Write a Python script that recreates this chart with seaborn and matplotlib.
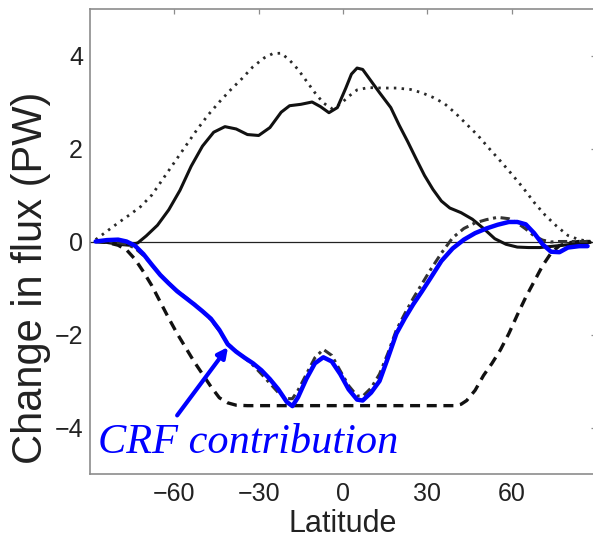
import numpy as np
import pandas as pd
import matplotlib
matplotlib.use("Agg")
import matplotlib.pyplot as plt
import seaborn as sns

# ---------------- data ----------------
lat_total = [-88, -84, -80, -76, -73, -70, -66, -62, -58, -54, -50, -46, -42, -38, -34, -30, -26, -22,
             -19, -15, -11, -8, -5, -2, 1, 3, 5, 7, 10, 13, 17, 20, 23, 26, 29, 32, 35, 38, 42, 46,
             50, 54, 58, 62, 66, 70, 75, 80, 84, 88]
val_total = [0.0, -0.02, -0.06, -0.08, -0.03, 0.12, 0.35, 0.68, 1.1, 1.62, 2.05, 2.35, 2.47, 2.42, 2.3,
             2.28, 2.45, 2.78, 2.92, 2.95, 3.0, 2.9, 2.77, 2.88, 3.3, 3.6, 3.73, 3.7, 3.45, 3.2, 2.88,
             2.5, 2.15, 1.78, 1.42, 1.12, 0.87, 0.72, 0.62, 0.48, 0.28, 0.06, -0.06, -0.12, -0.13,
             -0.13, -0.1, -0.07, -0.04, -0.02]

lat_pos = [-88, -84, -80, -76, -72, -68, -64, -60, -56, -52, -48, -44, -40, -36, -32, -28, -25, -22,
           -19, -16, -13, -10, -7, -4, -1, 2, 5, 9, 14, 19, 24, 28, 32, 36, 40, 44, 48, 52, 56, 60,
           64, 68, 72, 76, 80, 84, 88]
val_pos = [0.04, 0.22, 0.4, 0.57, 0.75, 1.0, 1.35, 1.7, 2.05, 2.4, 2.72, 3.0, 3.26, 3.5, 3.76, 3.95,
           4.04, 4.05, 3.9, 3.7, 3.45, 3.2, 2.98, 2.86, 2.95, 3.12, 3.26, 3.31, 3.3, 3.3, 3.27, 3.2,
           3.1, 2.97, 2.76, 2.52, 2.28, 2.0, 1.73, 1.45, 1.16, 0.84, 0.56, 0.33, 0.13, 0.04, 0.0]

lat_neg = [-88, -84, -80, -77, -74, -71, -68, -65, -62, -59, -56, -53, -50, -47, -44, -41, -38, -34,
           40, 42, 44, 47, 50, 53, 56, 59, 62, 65, 68, 71, 74, 77, 80, 84, 88]
val_neg = [0.0, -0.02, -0.08, -0.18, -0.38, -0.65, -0.95, -1.3, -1.65, -1.98, -2.28, -2.58, -2.85,
           -3.12, -3.36, -3.47, -3.52, -3.53, -3.53, -3.5, -3.42, -3.2, -2.88, -2.62, -2.33, -1.98,
           -1.58, -1.2, -0.86, -0.52, -0.25, -0.09, -0.03, 0.0, 0.0]

lat_crf = [-88, -84, -80, -77, -74, -71, -68, -65, -62, -59, -56, -53, -50, -47, -44, -41, -38, -35,
           -32, -29, -26, -23, -20, -18, -16, -13, -10, -7, -4, -1, 2, 5, 7, 10, 13, 16, 19, 22, 25,
           28, 31, 35, 39, 43, 47, 51, 55, 59, 62, 65, 68, 71, 74, 77, 80, 84, 87]
val_crf = [0.0, 0.03, 0.04, 0.0, -0.09, -0.27, -0.5, -0.72, -0.9, -1.07, -1.21, -1.35, -1.5, -1.66,
           -1.9, -2.21, -2.37, -2.5, -2.62, -2.77, -2.96, -3.18, -3.45, -3.54, -3.35, -2.95, -2.62,
           -2.49, -2.58, -2.85, -3.18, -3.4, -3.42, -3.25, -3.0, -2.5, -1.98, -1.65, -1.35, -1.08,
           -0.8, -0.42, -0.15, 0.04, 0.18, 0.28, 0.36, 0.42, 0.42, 0.37, 0.18, -0.06, -0.22, -0.23,
           -0.13, -0.1, -0.1]
val_cld = [0.0, 0.0, -0.02, -0.06, -0.14, -0.3, -0.5, -0.72, -0.9, -1.06, -1.2, -1.34, -1.5, -1.68,
           -1.92, -2.2, -2.36, -2.5, -2.66, -2.85, -3.05, -3.25, -3.38, -3.38, -3.2, -2.85, -2.5,
           -2.32, -2.45, -2.78, -3.1, -3.32, -3.33, -3.15, -2.85, -2.4, -1.9, -1.55, -1.22, -0.92,
           -0.62, -0.25, 0.08, 0.28, 0.4, 0.47, 0.52, 0.49, 0.4, 0.27, 0.12, 0.03, -0.01, 0.0, 0.0,
           0.0, 0.0]

xticks = [-60, -30, 0, 30, 60]
yticks = [-4, -2, 0, 2, 4]
label_text = "CRF contribution"
arrow_start = (-59, -3.74)
arrow_end = (-40.9, -2.27)

# ---------------- figure ----------------
sns.set_theme(style="white")
plt.rcParams["font.family"] = ["Liberation Sans", "DejaVu Sans"]
plt.rcParams["lines.solid_joinstyle"] = "round"
plt.rcParams["lines.dash_joinstyle"] = "round"

W, H = 593, 539
fig = plt.figure(figsize=(W / 100, H / 100), dpi=100)
ax = fig.add_axes([90 / W, (H - 474) / H, 506 / W, 465 / H])

ax.axhline(0, color="#222222", lw=0.9, zorder=1)

sns.lineplot(x=lat_pos, y=val_pos, ax=ax, color="#2a2a2a", lw=2.0,
             linestyle=(0, (0.9, 1.9)), estimator=None, sort=False, zorder=2)
sns.lineplot(x=lat_total, y=val_total, ax=ax, color="#111111", lw=2.2,
             estimator=None, sort=False, zorder=3)
sns.lineplot(x=lat_neg, y=val_neg, ax=ax, color="#111111", lw=2.4,
             linestyle=(0, (3, 2)), estimator=None, sort=False, zorder=3)
sns.lineplot(x=lat_crf, y=val_cld, ax=ax, color="#333333", lw=2.2,
             linestyle=(0, (3, 1.5, 1, 1.5)), estimator=None, sort=False, zorder=3)
sns.lineplot(x=lat_crf, y=val_crf, ax=ax, color="#0000ff", lw=3.2,
             estimator=None, sort=False, zorder=4)

ax.annotate("", xy=arrow_end, xytext=arrow_start,
            arrowprops=dict(arrowstyle="-|>", color="#0000ff", lw=3,
                            mutation_scale=15, shrinkA=0, shrinkB=0), zorder=5)
ax.text(-87.1, -4.556, label_text, color="#0000ff", fontsize=30.5,
        family=["Liberation Serif", "DejaVu Serif"], style="italic",
        ha="left", va="baseline", zorder=6)

ax.set_xlim(-90, 90)
ax.set_ylim(-5, 5)
ax.set_xticks(xticks)
ax.set_yticks(yticks)
ax.set_xlabel("")
ax.set_ylabel("")
for s in ax.spines.values():
    s.set_color("#8c8c8c")
    s.set_linewidth(1.2)
ax.tick_params(direction="in", length=3.6, width=0.9, color="#8c8c8c",
               top=True, right=True, labelsize=18, labelcolor="#222222")
ax.tick_params(axis="x", pad=5.8)
ax.tick_params(axis="y", pad=5.0)

fig.text(31 / W, 1 - 277.5 / H, "Change in flux (PW)", rotation=90, ha="center",
         va="center", fontsize=30, color="#222222")
fig.text(343 / W, 1 - 538.5 / H, "Latitude", ha="center", va="bottom",
         fontsize=22, color="#222222")

fig.savefig("out.png", dpi=100)
